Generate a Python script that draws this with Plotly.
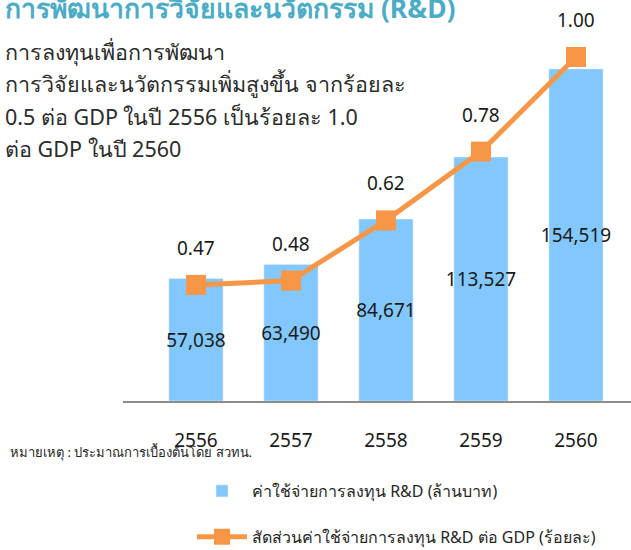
import plotly.graph_objects as go

years = ["2556", "2557", "2558", "2559", "2560"]
rd_spend = [57038, 63490, 84671, 113527, 154519]
rd_gdp = [0.47, 0.48, 0.62, 0.78, 1.00]

title_text = "การพัฒนาการวิจัยและนวัตกรรม (R&D)"
body_lines = [
    "การลงทุนเพื่อการพัฒนา",
    "การวิจัยและนวัตกรรมเพิ่มสูงขึ้น จากร้อยละ",
    "0.5 ต่อ GDP ในปี 2556 เป็นร้อยละ 1.0",
    "ต่อ GDP ในปี 2560",
]
note_text = "หมายเหตุ : ประมาณการเบื้องต้นโดย สวทน."
bar_name = "ค่าใช้จ่ายการลงทุน R&D (ล้านบาท)"
line_name = "สัดส่วนค่าใช้จ่ายการลงทุน R&D ต่อ GDP (ร้อยละ)"

W, H = 631, 550
ML, MR, MT, MB = 123, 0, 40, 149
PW = W - ML - MR
PH = H - MT - MB

def px(x):
    return (x - ML) / PW

def py(y):
    return (H - MB - y) / PH

FONT = "Noto Sans, DejaVu Sans, sans-serif"
BLUE = "#82C8FE"
ORANGE = "#F79646"

fig = go.Figure()
fig.add_trace(go.Bar(
    x=years, y=rd_spend, name=bar_name, marker_color=BLUE,
    texttemplate="%{y:,}", textposition="inside", insidetextanchor="middle",
    textangle=0, constraintext="none",
    textfont=dict(size=19, color="#1a1a1a", family=FONT),
    legendgroup="a", yaxis="y",
))
fig.add_trace(go.Scatter(
    x=years, y=rd_gdp, name=line_name, mode="lines+markers",
    line=dict(color=ORANGE, width=5),
    marker=dict(symbol="square", size=20, color=ORANGE),
    legendgroup="b", yaxis="y2",
))

annotations = []
for i, v in enumerate(rd_gdp):
    annotations.append(dict(
        x=i, y=v, xref="x", yref="y2", text=f"{v:.2f}", showarrow=False,
        yshift=37, font=dict(size=19, color="#1a1a1a", family=FONT),
    ))

annotations.append(dict(
    x=px(3), y=py(8), xref="paper", yref="paper", text=f"<b>{title_text}</b>",
    showarrow=False, xanchor="left", yanchor="middle",
    font=dict(size=26.5, color="#4BACC6", family=FONT),
))
for i, line in enumerate(body_lines):
    annotations.append(dict(
        x=px(3), y=py(51 + i * 32.5), xref="paper", yref="paper", text=line,
        showarrow=False, xanchor="left", yanchor="middle",
        font=dict(size=21.5, color="#2b2b2b", family=FONT),
    ))
annotations.append(dict(
    x=px(8), y=py(452), xref="paper", yref="paper", text=note_text,
    showarrow=False, xanchor="left", yanchor="middle",
    font=dict(size=13, color="#262626", family=FONT),
))

fig.update_layout(
    width=W, height=H,
    margin=dict(l=ML, r=MR, t=MT, b=MB, autoexpand=False),
    paper_bgcolor="white", plot_bgcolor="white",
    bargap=0.43,
    xaxis=dict(
        type="category", range=[-0.768, 4.579],
        showline=True, linecolor="#8c8c8c", linewidth=2,
        showgrid=False, ticks="", ticklabelstandoff=21,
        tickfont=dict(size=19, color="#1a1a1a", family=FONT),
    ),
    yaxis=dict(range=[0, 168000], visible=False, showgrid=False),
    yaxis2=dict(range=[0.2, 1.0395], overlaying="y", visible=False, showgrid=False),
    showlegend=True,
    legend=dict(
        x=px(192), y=py(474), xanchor="left", yanchor="top",
        orientation="v", tracegroupgap=22, itemwidth=50,
        font=dict(size=16, color="#262626", family=FONT),
        bgcolor="rgba(0,0,0,0)",
    ),
    annotations=annotations,
)

fig.write_html(
    "out.html",
    config={"displayModeBar": False},
    post_script="document.body.style.margin='0';",
)
